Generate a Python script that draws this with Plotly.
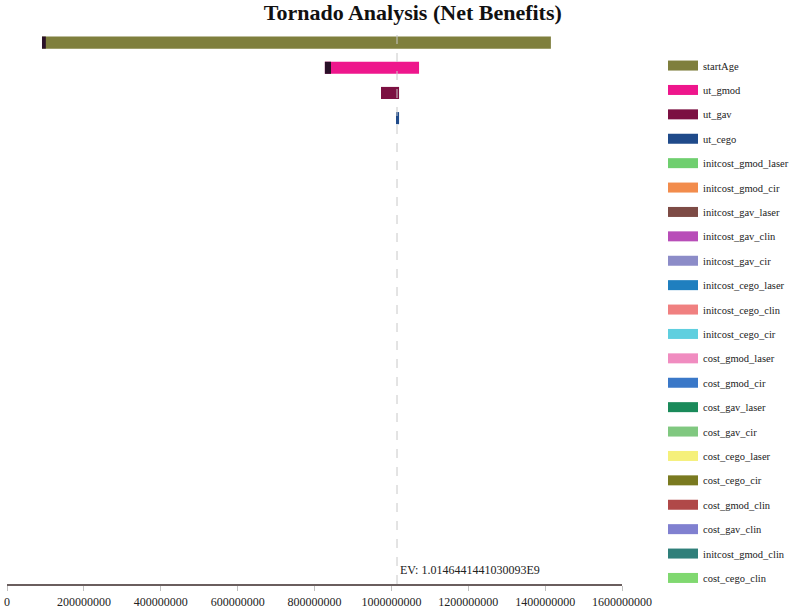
"""Tornado analysis chart (net benefits)."""

import plotly.graph_objects as go

ev_value = 1014644144.1030093
ev_label = "EV: 1.0146441441030093E9"

variables = [
    "startAge", "ut_gmod", "ut_gav", "ut_cego",
    "initcost_gmod_laser", "initcost_gmod_cir", "initcost_gav_laser",
    "initcost_gav_clin", "initcost_gav_cir", "initcost_cego_laser",
    "initcost_cego_clin", "initcost_cego_cir", "cost_gmod_laser",
    "cost_gmod_cir", "cost_gav_laser", "cost_gav_cir", "cost_cego_laser",
    "cost_cego_cir", "cost_gmod_clin", "cost_gav_clin",
    "initcost_gmod_clin", "cost_cego_clin",
]
low_values = [91e6, 827e6, 973e6, 1012e6] + [ev_value] * 18
high_values = [1415e6, 1072e6, 1020e6, 1020e6] + [ev_value] * 18
# dark segment at the low end of the widest bars
stub_ends = [101e6, 843e6, None, None] + [None] * 18

colors = [
    "#7f7f3d", "#ee168c", "#7c1042", "#1f4a8a",
    "#6fcf6f", "#f28c4c", "#7d4b45", "#b84db8", "#8c8cc8", "#1f7fbf",
    "#f08080", "#5fcfdf", "#f08cc0", "#3a78c8", "#1a8a5a", "#80c880",
    "#f5f07a", "#7a7a20", "#b04848", "#8080d0", "#2f7f7a", "#80d870",
]
stub_color = "#2a1028"

tick_vals = [0, 200e6, 400e6, 600e6, 800e6, 1000e6, 1200e6, 1400e6, 1600e6]
tick_text = [f"{v:.0f}" for v in tick_vals]

serif = "Liberation Serif, Times New Roman, serif"

fig = go.Figure()

for name, lo, hi, stub, color in zip(variables, low_values, high_values, stub_ends, colors):
    fig.add_trace(
        go.Bar(
            y=[name],
            x=[hi - lo],
            base=[lo],
            orientation="h",
            width=0.48,
            marker=dict(color=color, line=dict(width=0)),
            legendgroup=name,
            showlegend=False,
            hoverinfo="skip",
        )
    )
    if stub is not None:
        fig.add_trace(
            go.Bar(
                y=[name],
                x=[stub - lo],
                base=[lo],
                orientation="h",
                width=0.48,
                marker=dict(color=stub_color, line=dict(width=0)),
                legendgroup=name,
                showlegend=False,
                hoverinfo="skip",
            )
        )
    # legend entry drawn as a wide swatch
    fig.add_trace(
        go.Scatter(
            x=[None],
            y=[None],
            mode="lines",
            name=name,
            line=dict(color=color, width=10),
            legendgroup=name,
        )
    )

fig.add_shape(
    type="line",
    x0=ev_value, x1=ev_value, xref="x",
    y0=0, y1=1, yref="paper",
    line=dict(color="#c8c8c8", width=1, dash="dash"),
)
fig.add_annotation(
    x=ev_value, xref="x",
    y=0.025, yref="paper",
    text=ev_label,
    showarrow=False,
    xanchor="left",
    yanchor="middle",
    xshift=1,
    font=dict(family=serif, size=12, color="#222222"),
)

fig.update_layout(
    width=800,
    height=609,
    margin=dict(l=7, r=178, t=30, b=25, autoexpand=False),
    paper_bgcolor="white",
    plot_bgcolor="white",
    barmode="overlay",
    title=dict(
        text="<b>Tornado Analysis (Net Benefits)</b>",
        x=0.516, xref="container", xanchor="center",
        y=0.980, yref="container", yanchor="middle",
        font=dict(family=serif, size=22, color="#111111"),
    ),
    legend=dict(
        x=1.0667, xanchor="left",
        y=0.962, yanchor="top",
        font=dict(family=serif, size=10.5, color="#222222"),
        tracegroupgap=5.4,
        bgcolor="rgba(0,0,0,0)",
    ),
    showlegend=True,
)
fig.update_xaxes(
    range=[0, 1600e6],
    tickvals=tick_vals,
    ticktext=tick_text,
    showgrid=False,
    zeroline=False,
    showline=True,
    linecolor="#6a5e5e",
    linewidth=2,
    ticks="outside",
    ticklen=5,
    tickcolor="#c0c0c0",
    ticklabelstandoff=1,
    tickfont=dict(family=serif, size=12, color="#222222"),
    automargin=False,
)
fig.update_yaxes(
    type="category",
    categoryorder="array",
    categoryarray=variables,
    range=[21.5, -0.5],
    visible=False,
)

# drop the default page margin so the figure sits at the window corner
fig.write_html(
    "out.html",
    config={"displayModeBar": False},
    post_script="document.body.style.margin = '0';",
)
